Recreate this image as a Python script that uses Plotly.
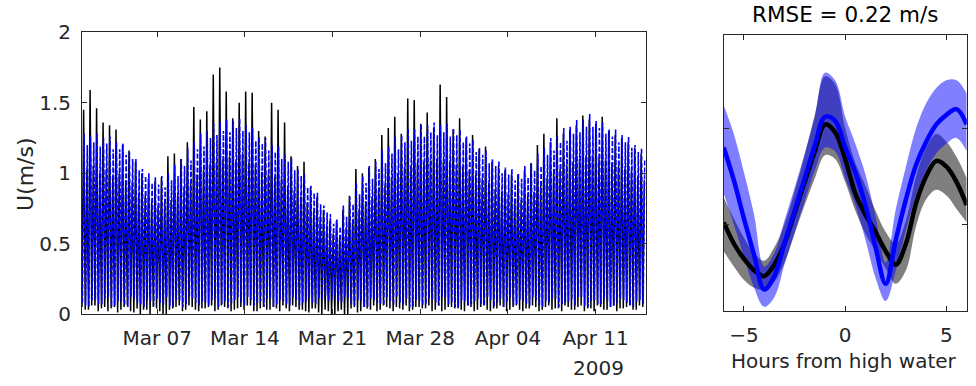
import pandas as pd
import plotly.graph_objects as go

# ---------------------------------------------------------------------------
# Tidal current speed U (m/s): observed (black) vs model (blue dashed).
# One entry per M2 tidal cycle starting 2009-03-01 00:00:
#   slack_a -> peak_a (flood) -> slack_b -> peak_b (ebb)
# ---------------------------------------------------------------------------
series_start = "2009-03-01 00:00"
m2_period_h = 12.42

obs_peak_a = [
    1.45, 1.59, 1.46, 1.36, 1.34, 1.31, 1.20, 1.16, 1.08, 1.00,
    0.96, 0.94, 0.97, 1.12, 1.14, 1.10, 1.22, 1.47, 1.38, 1.44,
    1.70, 1.75, 1.58, 1.39, 1.50, 1.58, 1.57, 1.30, 1.26, 1.50,
    1.45, 1.36, 1.12, 1.05, 1.08, 0.90, 0.83, 0.74, 0.66, 0.66,
    0.74, 0.84, 1.03, 1.00, 1.04, 1.10, 1.27, 1.32, 1.40, 1.28,
    1.53, 1.52, 1.35, 1.43, 1.32, 1.63, 1.54, 1.31, 1.39, 1.25,
    1.27, 1.17, 1.19, 1.08, 1.05, 1.02, 0.99, 0.99, 1.02, 1.07,
    1.20, 1.28, 1.22, 1.39, 1.28, 1.31, 1.34, 1.41, 1.38, 1.35,
    1.40, 1.30, 1.27, 1.25, 1.22, 1.18, 1.14,
]
obs_peak_b = [
    1.02, 1.05, 0.99, 1.03, 0.98, 1.00, 0.95, 0.93, 0.86, 0.84,
    0.80, 0.77, 0.79, 0.81, 0.84, 0.90, 0.93, 0.99, 1.02, 1.06,
    1.08, 1.10, 1.12, 1.09, 1.13, 1.07, 1.06, 1.01, 0.99, 0.97,
    0.95, 0.91, 0.88, 0.83, 0.79, 0.73, 0.69, 0.62, 0.57, 0.55,
    0.61, 0.67, 0.74, 0.80, 0.83, 0.88, 0.92, 0.97, 1.00, 1.04,
    1.05, 1.07, 1.08, 1.09, 1.10, 1.08, 1.09, 1.06, 1.05, 1.02,
    0.99, 0.96, 0.93, 0.89, 0.87, 0.85, 0.82, 0.81, 0.84, 0.87,
    0.91, 0.96, 1.00, 1.03, 1.06, 1.08, 1.10, 1.12, 1.13, 1.11,
    1.09, 1.07, 1.05, 1.03, 1.01, 0.98, 0.95,
]
obs_slack_a = [
    0.05, 0.03, 0.06, 0.04, 0.02, 0.05, 0.03, 0.06, 0.01, 0.00,
    0.03, 0.05, 0.02, 0.00, 0.04, 0.06, 0.03, 0.05, 0.02, 0.04,
    0.06, 0.03, 0.05, 0.02, 0.04, 0.03, 0.06, 0.02, 0.05, 0.03,
    0.04, 0.06, 0.02, 0.05, 0.03, 0.01, 0.04, 0.00, 0.02, 0.00,
    0.03, 0.00, 0.05, 0.02, 0.04, 0.06, 0.03, 0.05, 0.02, 0.04,
    0.06, 0.03, 0.05, 0.04, 0.02, 0.06, 0.03, 0.05, 0.04, 0.02,
    0.05, 0.03, 0.06, 0.02, 0.04, 0.05, 0.03, 0.06, 0.02, 0.04,
    0.05, 0.03, 0.06, 0.04, 0.02, 0.05, 0.03, 0.06, 0.04, 0.02,
    0.05, 0.03, 0.06, 0.04, 0.05, 0.03, 0.06,
]
obs_slack_b = [
    0.03, 0.06, 0.02, 0.05, 0.04, 0.01, 0.05, 0.02, 0.04, 0.03,
    0.00, 0.04, 0.00, 0.03, 0.05, 0.02, 0.06, 0.03, 0.04, 0.05,
    0.02, 0.06, 0.04, 0.03, 0.05, 0.06, 0.02, 0.04, 0.03, 0.05,
    0.02, 0.04, 0.06, 0.03, 0.02, 0.04, 0.01, 0.03, 0.00, 0.02,
    0.00, 0.04, 0.01, 0.05, 0.03, 0.02, 0.06, 0.04, 0.05, 0.03,
    0.02, 0.05, 0.04, 0.06, 0.03, 0.02, 0.05, 0.04, 0.03, 0.06,
    0.02, 0.05, 0.03, 0.04, 0.06, 0.02, 0.05, 0.03, 0.04, 0.06,
    0.02, 0.05, 0.03, 0.04, 0.06, 0.03, 0.05, 0.02, 0.04, 0.06,
    0.03, 0.05, 0.02, 0.04, 0.06, 0.03, 0.05,
]
mod_peak_a = [
    1.28, 1.26, 1.28, 1.25, 1.26, 1.22, 1.21, 1.15, 1.10, 1.03,
    1.00, 0.97, 0.98, 1.00, 1.06, 1.10, 1.18, 1.22, 1.28, 1.30,
    1.35, 1.36, 1.38, 1.37, 1.39, 1.34, 1.32, 1.26, 1.25, 1.20,
    1.19, 1.13, 1.11, 1.03, 0.99, 0.91, 0.86, 0.77, 0.71, 0.67,
    0.77, 0.83, 0.93, 0.98, 1.05, 1.08, 1.16, 1.19, 1.26, 1.27,
    1.32, 1.31, 1.35, 1.34, 1.36, 1.34, 1.35, 1.32, 1.31, 1.26,
    1.24, 1.18, 1.16, 1.10, 1.09, 1.04, 1.03, 1.00, 1.05, 1.07,
    1.14, 1.18, 1.25, 1.27, 1.32, 1.33, 1.38, 1.38, 1.42, 1.37,
    1.36, 1.31, 1.31, 1.27, 1.26, 1.20, 1.18,
]
mod_peak_b = [
    1.20, 1.22, 1.19, 1.21, 1.17, 1.17, 1.13, 1.10, 1.02, 0.98,
    0.93, 0.92, 0.90, 0.95, 0.98, 1.05, 1.09, 1.17, 1.19, 1.25,
    1.27, 1.30, 1.29, 1.32, 1.30, 1.29, 1.23, 1.21, 1.16, 1.15,
    1.10, 1.08, 1.02, 0.98, 0.90, 0.86, 0.78, 0.72, 0.64, 0.62,
    0.69, 0.78, 0.85, 0.93, 0.96, 1.03, 1.07, 1.14, 1.17, 1.22,
    1.23, 1.26, 1.26, 1.29, 1.27, 1.29, 1.26, 1.27, 1.22, 1.21,
    1.15, 1.13, 1.07, 1.05, 1.00, 0.99, 0.95, 0.96, 0.97, 1.02,
    1.05, 1.13, 1.16, 1.22, 1.23, 1.28, 1.29, 1.33, 1.33, 1.32,
    1.28, 1.26, 1.22, 1.22, 1.18, 1.15, 1.09,
]
mod_slack_a = [
    0.08, 0.05, 0.10, 0.07, 0.12, 0.06, 0.09, 0.05, 0.11, 0.07,
    0.10, 0.06, 0.08, 0.12, 0.05, 0.09, 0.07, 0.11, 0.06, 0.08,
    0.10, 0.05, 0.09, 0.07, 0.12, 0.06, 0.10, 0.08, 0.05, 0.11,
    0.07, 0.09, 0.06, 0.10, 0.08, 0.12, 0.07, 0.10, 0.09, 0.13,
    0.08, 0.11, 0.06, 0.09, 0.05, 0.10, 0.07, 0.12, 0.06, 0.08,
    0.11, 0.05, 0.09, 0.07, 0.10, 0.06, 0.12, 0.08, 0.05, 0.09,
    0.07, 0.11, 0.06, 0.10, 0.08, 0.05, 0.12, 0.07, 0.09, 0.06,
    0.10, 0.05, 0.08, 0.11, 0.07, 0.09, 0.06, 0.12, 0.05, 0.10,
    0.07, 0.09, 0.06, 0.11, 0.08, 0.05, 0.10,
]
mod_slack_b = [
    0.06, 0.10, 0.07, 0.11, 0.05, 0.09, 0.06, 0.12, 0.08, 0.05,
    0.09, 0.11, 0.07, 0.06, 0.10, 0.05, 0.12, 0.08, 0.09, 0.06,
    0.11, 0.07, 0.05, 0.10, 0.08, 0.12, 0.06, 0.09, 0.11, 0.05,
    0.10, 0.07, 0.12, 0.06, 0.09, 0.08, 0.11, 0.13, 0.10, 0.09,
    0.12, 0.07, 0.10, 0.05, 0.11, 0.08, 0.06, 0.09, 0.12, 0.07,
    0.05, 0.10, 0.06, 0.11, 0.08, 0.12, 0.07, 0.05, 0.10, 0.06,
    0.09, 0.07, 0.12, 0.05, 0.11, 0.08, 0.06, 0.10, 0.07, 0.12,
    0.06, 0.09, 0.11, 0.05, 0.08, 0.10, 0.12, 0.06, 0.09, 0.07,
    0.11, 0.05, 0.08, 0.10, 0.06, 0.09, 0.07,
]

date_ticks = ["2009-03-07", "2009-03-14", "2009-03-21",
              "2009-03-28", "2009-04-04", "2009-04-11"]
date_tick_labels = ["Mar 07", "Mar 14", "Mar 21", "Mar 28", "Apr 04", "Apr 11"]
speed_ticks = [0, 0.5, 1, 1.5, 2]
speed_tick_labels = ["0", "0.5", "1", "1.5", "2"]

# ---------------------------------------------------------------------------
# Composite tidal cycle (speed vs hours from high water), mean and spread
# ---------------------------------------------------------------------------
hours = [-6.0, -5.5, -5.0, -4.5, -4.0, -3.5, -3.0, -2.5, -2.0, -1.5, -1.0, -0.5,
         0.0, 0.5, 1.0, 1.5, 2.0, 2.5, 3.0, 3.5, 4.0, 4.5, 5.0, 5.5, 6.0]
obs_mean = [0.51, 0.40, 0.32, 0.26, 0.23, 0.29, 0.40, 0.56, 0.72, 0.88, 1.02, 0.98,
            0.84, 0.66, 0.55, 0.46, 0.36, 0.29, 0.40, 0.61, 0.75, 0.83, 0.80, 0.72, 0.60]
obs_low = [0.36, 0.28, 0.21, 0.17, 0.16, 0.20, 0.30, 0.45, 0.60, 0.74, 0.86, 0.84,
           0.72, 0.57, 0.45, 0.36, 0.27, 0.19, 0.26, 0.49, 0.63, 0.68, 0.65, 0.58, 0.51]
obs_high = [0.64, 0.53, 0.43, 0.35, 0.31, 0.38, 0.50, 0.67, 0.86, 1.07, 1.27, 1.23,
            1.00, 0.82, 0.70, 0.57, 0.46, 0.40, 0.52, 0.75, 0.90, 0.97, 0.93, 0.85, 0.74]
mod_mean = [0.90, 0.73, 0.53, 0.34, 0.16, 0.23, 0.40, 0.57, 0.74, 0.91, 1.06, 1.04,
            0.90, 0.77, 0.60, 0.38, 0.19, 0.42, 0.63, 0.81, 0.93, 1.02, 1.07, 1.10, 1.02]
mod_low = [0.66, 0.50, 0.33, 0.17, 0.07, 0.12, 0.29, 0.46, 0.62, 0.78, 0.90, 0.88,
           0.74, 0.60, 0.42, 0.22, 0.10, 0.26, 0.47, 0.65, 0.78, 0.87, 0.92, 0.95, 0.88]
mod_high = [1.12, 0.97, 0.77, 0.55, 0.28, 0.35, 0.52, 0.69, 0.87, 1.06, 1.29, 1.25,
            1.06, 0.92, 0.76, 0.54, 0.30, 0.58, 0.80, 1.00, 1.13, 1.21, 1.25, 1.25, 1.18]
hour_ticks = [-5, 0, 5]
rmse_text = "RMSE = 0.22 m/s"

for arr in (obs_peak_b, obs_slack_a, obs_slack_b, mod_peak_a, mod_peak_b,
            mod_slack_a, mod_slack_b):
    assert len(arr) == len(obs_peak_a)


def cycle_series(slack_a, peak_a, slack_b, peak_b, lag_h):
    """Interleave slack/peak speeds into a time series, quarter-cycle apart."""
    t0 = pd.Timestamp(series_start)
    times, speeds = [], []
    for n, vals in enumerate(zip(slack_a, peak_a, slack_b, peak_b)):
        for k, v in enumerate(vals):
            hrs = n * m2_period_h + k * m2_period_h / 4 + lag_h
            times.append(t0 + pd.Timedelta(hours=hrs))
            speeds.append(v)
    return times, speeds


obs_t, obs_u = cycle_series(obs_slack_a, obs_peak_a, obs_slack_b, obs_peak_b, 0.0)
mod_t, mod_u = cycle_series(mod_slack_a, mod_peak_a, mod_slack_b, mod_peak_b, 0.8)

FONT = "DejaVu Sans"
AX = "#262626"

fig = go.Figure()

# Time series panel
fig.add_trace(go.Scatter(x=obs_t, y=obs_u, mode="lines",
                         line=dict(color="black", width=1.5),
                         xaxis="x", yaxis="y", showlegend=False))
fig.add_trace(go.Scatter(x=mod_t, y=mod_u, mode="lines",
                         line=dict(color="rgb(0,0,255)", width=1.6, dash="5px,2px"),
                         xaxis="x", yaxis="y", showlegend=False))

# Composite panel: spread bands
fig.add_trace(go.Scatter(x=hours, y=obs_low, mode="lines", line=dict(width=0, shape="spline"),
                         xaxis="x2", yaxis="y2", showlegend=False, hoverinfo="skip"))
fig.add_trace(go.Scatter(x=hours, y=obs_high, mode="lines", line=dict(width=0, shape="spline"),
                         fill="tonexty", fillcolor="rgba(0,0,0,0.5)",
                         xaxis="x2", yaxis="y2", showlegend=False, hoverinfo="skip"))
fig.add_trace(go.Scatter(x=hours, y=mod_low, mode="lines", line=dict(width=0, shape="spline"),
                         xaxis="x2", yaxis="y2", showlegend=False, hoverinfo="skip"))
fig.add_trace(go.Scatter(x=hours, y=mod_high, mode="lines", line=dict(width=0, shape="spline"),
                         fill="tonexty", fillcolor="rgba(0,0,255,0.5)",
                         xaxis="x2", yaxis="y2", showlegend=False, hoverinfo="skip"))
# Composite panel: mean curves
fig.add_trace(go.Scatter(x=hours, y=obs_mean, mode="lines",
                         line=dict(color="black", width=4.5, shape="spline"),
                         xaxis="x2", yaxis="y2", showlegend=False))
fig.add_trace(go.Scatter(x=hours, y=mod_mean, mode="lines",
                         line=dict(color="rgb(0,0,255)", width=4.5, shape="spline"),
                         xaxis="x2", yaxis="y2", showlegend=False))

W, H = 976, 386

axis_common = dict(showline=True, linecolor=AX, linewidth=1, mirror="ticks",
                   ticks="inside", ticklen=5, tickcolor=AX, showgrid=False,
                   zeroline=False, automargin=False,
                   tickfont=dict(family=FONT, size=20, color=AX))

fig.update_layout(
    width=W, height=H, autosize=False,
    margin=dict(l=0, r=0, t=0, b=0),
    paper_bgcolor="white", plot_bgcolor="white",
    xaxis=dict(domain=[82 / W, 645.7 / W], anchor="y", type="date",
               range=["2009-03-01", "2009-04-15"],
               tickvals=date_ticks, ticktext=date_tick_labels,
               ticklabelstandoff=6, **axis_common),
    yaxis=dict(domain=[1 - 314 / H, 1 - 32.3 / H], anchor="x", range=[0, 2],
               tickvals=speed_ticks, ticktext=speed_tick_labels,
               ticklabelstandoff=6, **axis_common),
    xaxis2=dict(domain=[723.7 / W, 966.7 / W], anchor="y2", range=[-6, 6],
                tickvals=hour_ticks, ticklabelstandoff=6, **axis_common),
    yaxis2=dict(domain=[1 - 310.5 / H, 1 - 35 / H], anchor="x2", range=[0.051, 1.486],
                tickvals=[0.5, 1.0], showticklabels=False, **axis_common),
    annotations=[
        dict(text="2009", x=626 / W, y=1 - 368 / H, xref="paper", yref="paper",
             xanchor="right", yanchor="middle", showarrow=False,
             font=dict(family=FONT, size=20, color=AX)),
        dict(text="U(m/s)", x=25 / W, y=1 - 174 / H, xref="paper", yref="paper",
             xanchor="center", yanchor="middle", textangle=-90, showarrow=False,
             font=dict(family=FONT, size=22, color=AX)),
        dict(text=rmse_text, x=845 / W, y=1 - 14 / H, xref="paper", yref="paper",
             xanchor="center", yanchor="middle", showarrow=False,
             font=dict(family=FONT, size=21.5, color="black")),
        dict(text="Hours from high water", x=844 / W, y=1 - 361 / H, xref="paper",
             yref="paper", xanchor="center", yanchor="middle", showarrow=False,
             font=dict(family=FONT, size=20, color=AX)),
    ],
)

fig.write_html("out.html")
